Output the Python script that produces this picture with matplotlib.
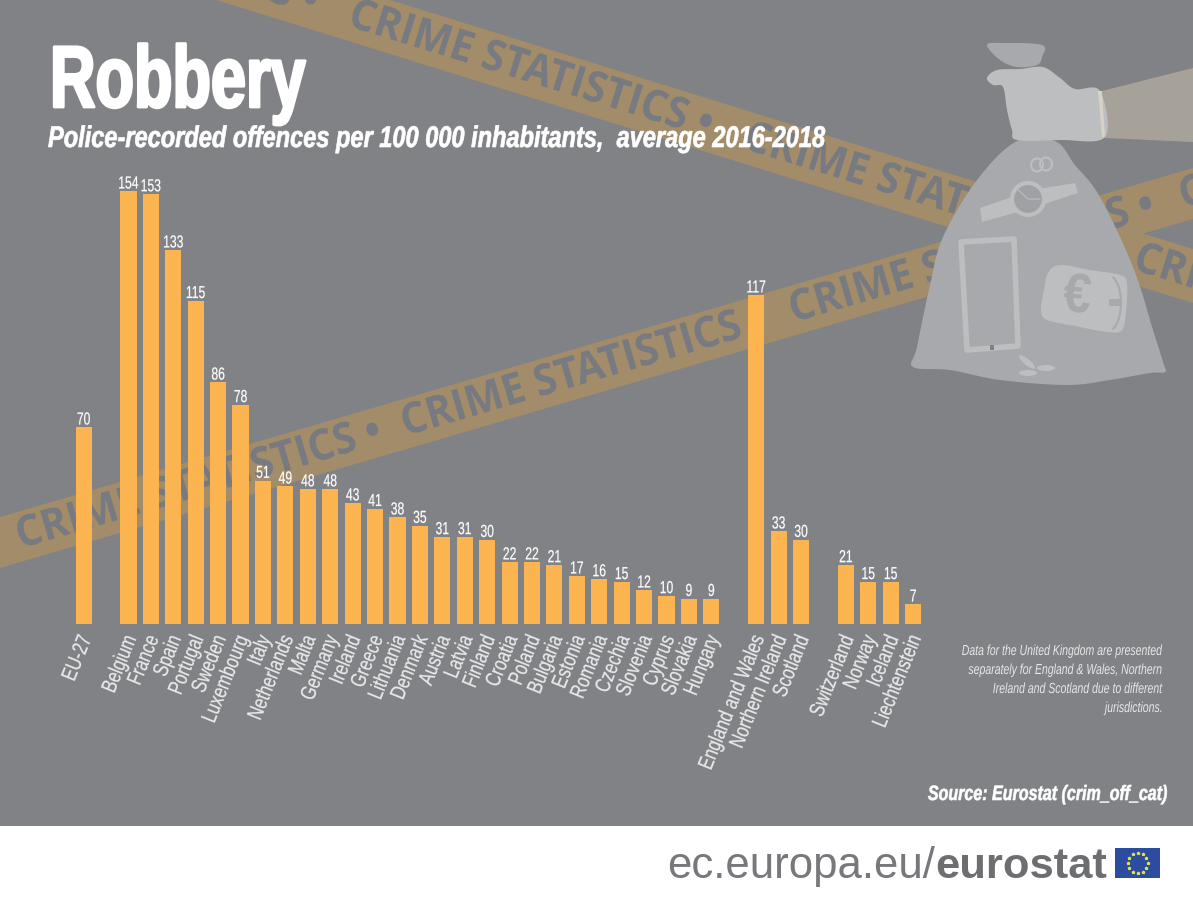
import numpy as np
import matplotlib
matplotlib.use("Agg")
import matplotlib.pyplot as plt
from matplotlib.patches import Polygon, FancyBboxPatch, Circle, Ellipse, Rectangle, Arc
from matplotlib.patheffects import AbstractPathEffect
from matplotlib.transforms import Affine2D

W, H = 1193, 900

# --- data
eu_names = ["EU-27"]
eu_values = [70]
member_names = ["Belgium", "France", "Spain", "Portugal", "Sweden", "Luxembourg", "Italy",
                "Netherlands", "Malta", "Germany", "Ireland", "Greece", "Lithuania", "Denmark",
                "Austria", "Latvia", "Finland", "Croatia", "Poland", "Bulgaria", "Estonia",
                "Romania", "Czechia", "Slovenia", "Cyprus", "Slovakia", "Hungary"]
member_values = [154, 153, 133, 115, 86, 78, 51, 49, 48, 48, 43, 41, 38, 35, 31, 31, 30,
                 22, 22, 21, 17, 16, 15, 12, 10, 9, 9]
uk_names = ["England and Wales", "Northern Ireland", "Scotland"]
uk_values = [117, 33, 30]
efta_names = ["Switzerland", "Norway", "Iceland", "Liechtenstein"]
efta_values = [21, 15, 15, 7]

BG = "#808285"
BAR = "#FBB44F"
TAPE = "#A28C69"
SANS = "Liberation Sans"


class Condense(AbstractPathEffect):
    # no condensed face installed, so squeeze the glyphs along the text direction
    def __init__(self, text, factor, grow=0):
        super().__init__()
        self.text = text
        self.factor = factor
        self.grow = grow

    def draw_path(self, renderer, gc, tpath, affine, rgbFace=None):
        x, y = self.text.get_transform().transform(self.text.get_unitless_position())
        a = np.radians(self.text.get_rotation())
        squeeze = (Affine2D().translate(-x, -y).rotate(-a).scale(self.factor, 1)
                   .rotate(a).translate(x, y))
        if self.grow:
            gc.set_linewidth(self.grow)
            gc.set_foreground(rgbFace)
        renderer.draw_path(gc, tpath, affine + squeeze, rgbFace)


def narrow(text, factor, grow=0):
    text.set_path_effects([Condense(text, factor, grow)])
    return text


fig = plt.figure(figsize=(W / 100, H / 100), dpi=100, facecolor=BG)

# decoration layer, works in image pixels
bg = fig.add_axes([0, 0, 1, 1])
bg.set_xlim(0, W)
bg.set_ylim(H, 0)
bg.axis("off")


def smooth(points, n=12):
    # closed catmull-rom through the outline points
    p = np.array(points, dtype=float)
    out = []
    for i in range(len(p)):
        p0, p1, p2, p3 = p[i - 1], p[i], p[(i + 1) % len(p)], p[(i + 2) % len(p)]
        for t in np.linspace(0, 1, n, endpoint=False):
            out.append(0.5 * (2 * p1 + (p2 - p0) * t + (2 * p0 - 5 * p1 + 4 * p2 - p3) * t ** 2
                              + (3 * p1 - p0 - 3 * p2 + p3) * t ** 3))
    return np.array(out)


def tape(x0, y0, x1, y1, thick, starts, angle):
    band = Polygon([(x0, y0), (x1, y1), (x1, y1 + thick), (x0, y0 + thick)], closed=True,
                   fc=TAPE, ec="none", zorder=1)
    bg.add_patch(band)
    slope = (y1 - y0) / (x1 - x0)
    for sx in starts:
        sy = y0 + slope * (sx - x0) + thick / 2
        t = bg.text(sx, sy, "CRIME STATISTICS •", color="#777A80", fontsize=31, family="Open Sans",
                    fontweight="bold", rotation=angle, rotation_mode="anchor",
                    ha="left", va="center", zorder=2)
        t.set_clip_path(band)
        narrow(t, 0.95)


tape(0, -121, 1193, 249, 54, [-45, 350, 745, 1135], -17.2)
tape(0, 517, 1193, 168, 51, [-372, 17, 402, 790, 1180], 16.3)

# sleeve, glove and bag
bg.add_patch(Polygon([(1102, 91), (1193, 68), (1193, 142), (1105, 138)], fc="#A6A299", ec="none", zorder=3))
bag = [(1017, 141), (1055, 141), (1075, 165), (1100, 197), (1133, 267), (1153, 330), (1163, 362),
       (1165, 372), (1150, 373), (1110, 380), (1067, 385), (1000, 380), (950, 370), (913, 367),
       (917, 347), (930, 285), (943, 237), (977, 180)]
bg.add_patch(Polygon(smooth(bag), fc="#A7A9AC", ec="none", zorder=4))
top = [(987, 45), (1003, 43), (1042, 45), (1042, 57), (1037, 65), (1017, 67), (1000, 60)]
bg.add_patch(Polygon(smooth(top), fc="#A7A9AC", ec="none", zorder=4))
glove = [(987, 78), (997, 70), (1020, 69), (1043, 67), (1060, 78), (1075, 89), (1100, 91), (1105, 137),
         (1060, 140), (1017, 140), (1012, 130), (1007, 110), (1003, 87), (993, 85)]
bg.add_patch(Polygon(smooth(glove), fc="#BCBEC0", ec="none", zorder=5))
bg.add_patch(Polygon([(1098, 91), (1102, 91), (1105, 137), (1102, 137)], fc="#D6D2C6", ec="none", zorder=6))

# things in the bag
LIGHT = "#BCBEC0"
DARK = "#A7A9AC"
bg.add_patch(Ellipse((1037, 165), 12, 13, fill=False, ec=LIGHT, lw=1.5, zorder=5))
bg.add_patch(Ellipse((1046, 164), 12, 13, fill=False, ec=LIGHT, lw=1.5, zorder=5))
bg.add_patch(Polygon([(980, 208), (1032, 190), (1075, 183), (1078, 193), (1032, 208), (982, 222)],
                     fc=LIGHT, ec="none", zorder=5))
bg.add_patch(Circle((1028, 199), 16, fc="#9FA1A4", ec=LIGHT, lw=3, zorder=6))
bg.plot([1016, 1028, 1040], [188, 199, 199], color=LIGHT, lw=0.8, zorder=7)
bg.add_patch(Polygon([(961, 242), (1014, 239), (1018, 346), (967, 350)], fc=DARK, ec=LIGHT, lw=4,
                     joinstyle="round", zorder=5))
bg.add_patch(Rectangle((990, 345), 4, 5, fc="#808285", ec="none", zorder=7))
wallet = [(1060, 265), (1090, 270), (1120, 275), (1127, 283), (1126, 310), (1122, 330), (1107, 332),
          (1075, 326), (1047, 320), (1041, 310), (1044, 290), (1048, 273)]
bg.add_patch(Polygon(smooth(wallet), fc=LIGHT, ec="none", zorder=5))
narrow(bg.text(1077, 298, "€", color=DARK, fontsize=40, family=SANS, fontweight="bold",
               rotation=-5, rotation_mode="anchor", ha="center", va="center", zorder=6), 0.9)
bg.add_patch(Arc((1108, 303), 26, 56, theta1=-80, theta2=80, ec=DARK, lw=1.5, zorder=6))
bg.add_patch(FancyBboxPatch((1110, 300), 10, 5, boxstyle="round,pad=1", fc=DARK, ec="none", zorder=6))
bg.add_patch(Ellipse((1027, 362), 20, 6, angle=40, fc=LIGHT, ec="none", zorder=5))
bg.add_patch(Ellipse((1046, 368), 18, 6, fc=LIGHT, ec="none", zorder=5))
bg.add_patch(Ellipse((1028, 373), 18, 6, fc=LIGHT, ec="none", zorder=5))

# bars
names = eu_names + member_names + uk_names + efta_names
values = eu_values + member_values + uk_values + efta_values
pos = []
slot = 0
for group in (eu_names, member_names, uk_names, efta_names):
    pos.extend(range(slot, slot + len(group)))
    slot += len(group) + 1
pos = np.array(pos)

STEP = 22.42
LEFT = 83.6
BASE = 624
UNIT = 2.81
ax = fig.add_axes([0, 1 - BASE / H, 1, BASE / H])
ax.patch.set_alpha(0)
ax.set_xlim(-LEFT / STEP, (W - LEFT) / STEP)
ax.set_ylim(0, BASE / UNIT)
for s in ax.spines.values():
    s.set_visible(False)
ax.yaxis.set_visible(False)
ax.bar(pos, values, width=0.72, color=BAR)
for x, v in zip(pos, values):
    narrow(ax.text(x, v + 1, str(v), ha="center", va="baseline", color="white", fontsize=12.5, family=SANS), 0.7, 0.15)
ax.set_xticks(pos)
labels = ax.set_xticklabels(names, rotation=68, ha="right", va="center", rotation_mode="anchor",
                            color="#E6E7E8", fontsize=15.5, family=SANS)
ax.tick_params(axis="x", length=0, pad=9)
nudge = Affine2D().translate(3, 0)
for lab in labels:
    lab.set_transform(lab.get_transform() + nudge)
    narrow(lab, 0.77, 0.2)

# titles
narrow(bg.text(50, 107, "Robbery", color="white", fontsize=63, fontweight="bold", family=SANS,
               ha="left", va="baseline", zorder=8), 0.72, 2)
narrow(bg.text(48, 147, "Police-recorded offences per 100 000 inhabitants,  average 2016-2018", color="white",
               fontsize=21.5, fontweight="bold", style="italic", family=SANS, ha="left", va="baseline", zorder=8), 0.79, 0.5)

note = ["Data for the United Kingdom are presented", "separately for England & Wales, Northern",
        "Ireland and Scotland due to different", "jurisdictions."]
for i, line in enumerate(note):
    narrow(bg.text(1163, 655 + i * 19, line, color="#E6E7E8", fontsize=10.5, style="italic", family=SANS,
                   ha="right", va="baseline", zorder=8), 0.72)
narrow(bg.text(1168, 800, "Source: Eurostat (crim_off_cat)", color="white", fontsize=15, fontweight="bold",
               style="italic", family=SANS, ha="right", va="baseline", zorder=8), 0.77, 0.4)

# footer
bg.add_patch(Rectangle((0, 826), W, 74, fc="white", ec="none", zorder=8))
bg.text(667, 878, "ec.europa.eu/", color="#77787B", fontsize=31.5, family=SANS,
        ha="left", va="baseline", zorder=9)
bg.text(935, 878, "eurostat", color="#6D6E71", fontsize=31.3, family=SANS, fontweight="bold",
        ha="left", va="baseline", zorder=9)
bg.add_patch(Rectangle((1115, 848), 45, 30, fc="#2B4C9F", ec="none", zorder=9))
ang = np.linspace(0, 2 * np.pi, 12, endpoint=False)
bg.scatter(1137.5 + 10 * np.cos(ang), 863 + 10 * np.sin(ang), s=3, color="#E8E337", marker="*", zorder=10)

fig.savefig("out.png", dpi=100, facecolor=BG)
